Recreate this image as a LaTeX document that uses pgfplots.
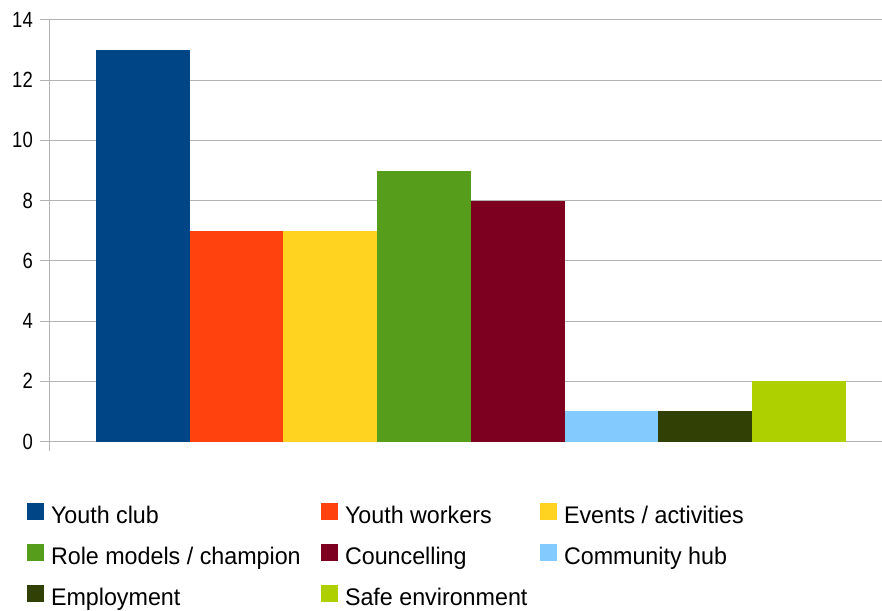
\documentclass[border=0pt]{standalone}
\usepackage{fontspec}
\setmainfont[FakeStretch=0.97]{Liberation Sans}
\newfontfamily\tickfont[FakeStretch=0.84]{Liberation Sans}
\usepackage{pgfplots}
\pgfplotsset{compat=1.18}
\definecolor{c1}{HTML}{004586}
\definecolor{c2}{HTML}{FF420E}
\definecolor{c3}{HTML}{FFD320}
\definecolor{c4}{HTML}{579D1C}
\definecolor{c5}{HTML}{7E0021}
\definecolor{c6}{HTML}{83CAFF}
\definecolor{c7}{HTML}{314004}
\definecolor{c8}{HTML}{AECF00}
\definecolor{gridc}{HTML}{B3B3B3}
\newcommand{\LA}[1]{\makebox[270pt][l]{#1}}
\newcommand{\LB}[1]{\makebox[195pt][l]{#1}}
\begin{document}
\begin{tikzpicture}
\useasboundingbox (0pt,0pt) rectangle (882pt,610pt);
\begin{axis}[
  at={(49pt,168.5pt)}, anchor=south west,
  scale only axis, width=833pt, height=421.5pt,
  xmin=0, xmax=8.884, ymin=0, ymax=14,
  ybar, bar width=1,
  axis x line=bottom, axis y line=left,
  axis line style={gridc, line width=1pt, -},
  xtick={0}, xticklabels={},
  ytick={0,2,...,14},
  ymajorgrids, grid style={gridc, line width=1pt},
  tick align=outside, major tick length=9pt,
  tick style={gridc, line width=1pt},
  yticklabel style={font=\tickfont\fontsize{22}{24}\selectfont, inner sep=0pt, xshift=-7pt},
  /pgf/number format/assume math mode=true,
  legend columns=3,
  legend cell align=left,
  legend style={at={(axis description cs:-0.0264,-0.1459)}, anchor=north west,
    draw=none, fill=none, inner sep=0pt, outer sep=0pt,
    nodes={font=\fontsize{24}{28}\selectfont, inner sep=0pt, text height=18pt, text depth=6pt},
    row sep=15pt,
    /tikz/every odd column/.append style={column sep=7pt}},
  legend image code/.code={\fill[#1,draw=none] (0pt,-3pt) rectangle (17pt,14pt);},
]
\addplot[fill=c1, draw=none, bar shift=0pt] coordinates {(1,13)};
\addlegendentry{\LA{Youth club}}
\addplot[fill=c2, draw=none, bar shift=0pt] coordinates {(2,7)};
\addlegendentry{\LB{Youth workers}}
\addplot[fill=c3, draw=none, bar shift=0pt] coordinates {(3,7)};
\addlegendentry{Events / activities}
\addplot[fill=c4, draw=none, bar shift=0pt] coordinates {(4,9)};
\addlegendentry{\LA{Role models / champion}}
\addplot[fill=c5, draw=none, bar shift=0pt] coordinates {(5,8)};
\addlegendentry{\LB{Councelling}}
\addplot[fill=c6, draw=none, bar shift=0pt] coordinates {(6,1)};
\addlegendentry{Community hub}
\addplot[fill=c7, draw=none, bar shift=0pt] coordinates {(7,1)};
\addlegendentry{\LA{Employment}}
\addplot[fill=c8, draw=none, bar shift=0pt] coordinates {(8,2)};
\addlegendentry{\LB{Safe environment}}
\end{axis}
\end{tikzpicture}
\end{document}
